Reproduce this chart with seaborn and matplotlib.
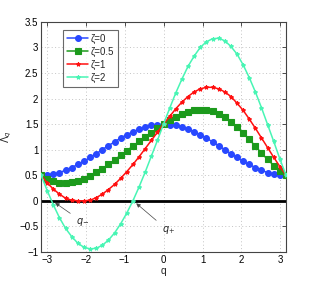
import matplotlib
matplotlib.use("Agg")
import matplotlib.pyplot as plt
import numpy as np
import seaborn as sns

# q grid: 41 samples from -pi to pi
q = np.linspace(-np.pi, np.pi, 41)

lam_z0 = [0.50, 0.51, 0.52, 0.55, 0.60, 0.65, 0.71, 0.77, 0.85, 0.92, 1.00,
          1.08, 1.15, 1.23, 1.29, 1.35, 1.40, 1.45, 1.48, 1.49, 1.50,
          1.49, 1.48, 1.45, 1.40, 1.35, 1.29, 1.23, 1.15, 1.08, 1.00,
          0.92, 0.85, 0.77, 0.71, 0.65, 0.60, 0.55, 0.52, 0.51, 0.50]
lam_z05 = [0.50, 0.43, 0.38, 0.35, 0.35, 0.36, 0.39, 0.43, 0.49, 0.56, 0.63,
           0.71, 0.80, 0.89, 0.98, 1.07, 1.16, 1.25, 1.33, 1.42, 1.50,
           1.58, 1.64, 1.70, 1.74, 1.77, 1.78, 1.78, 1.75, 1.70, 1.63,
           1.54, 1.44, 1.32, 1.20, 1.07, 0.93, 0.81, 0.69, 0.59, 0.50]
lam_z1 = [0.50, 0.35, 0.23, 0.13, 0.05, 0.01, 0.00, 0.00, 0.01, 0.06, 0.13,
          0.22, 0.32, 0.44, 0.57, 0.71, 0.86, 1.02, 1.18, 1.34, 1.50,
          1.65, 1.80, 1.93, 2.04, 2.13, 2.19, 2.22, 2.22, 2.19, 2.13,
          2.04, 1.91, 1.77, 1.60, 1.42, 1.23, 1.04, 0.85, 0.67, 0.50]
lam_z2 = [0.50, 0.20, -0.08, -0.33, -0.54, -0.70, -0.83, -0.91, -0.94, -0.93, -0.87,
          -0.77, -0.63, -0.45, -0.24, 0.00, 0.27, 0.56, 0.87, 1.18, 1.50,
          1.81, 2.11, 2.38, 2.63, 2.83, 3.00, 3.11, 3.17, 3.18, 3.13,
          3.02, 2.87, 2.66, 2.41, 2.13, 1.82, 1.49, 1.16, 0.82, 0.50]

labels = ["ζ=0", "ζ=0.5", "ζ=1", "ζ=2"]
series = [lam_z0, lam_z05, lam_z1, lam_z2]
colors = ["#2848ff", "#1c9a1c", "#ff1010", "#48f5b4"]
markers = ["o", "s", "*", "*"]
msizes = [4.2, 4.0, 3.0, 3.0]

sns.set_style("white")
plt.rcParams["font.family"] = ["Liberation Sans", "DejaVu Sans"]
plt.rcParams["font.size"] = 6.5

fig = plt.figure(figsize=(3.16, 2.84), dpi=100)
ax = fig.add_axes([0.13, 0.113, 0.775, 0.81])

ax.axhline(0, color="black", lw=2.0, zorder=1)
for vals, lab, col, mk, ms in zip(series, labels, colors, markers, msizes):
    sns.lineplot(x=q, y=vals, ax=ax, color=col, marker=mk, markersize=ms,
                 markeredgecolor=col, markeredgewidth=0.8, lw=1.1,
                 label=lab, zorder=3)

ax.set_xlim(-np.pi, np.pi)
ax.set_ylim(-1, 3.5)
ax.set_xticks([-3, -2, -1, 0, 1, 2, 3])
ax.set_yticks(np.arange(-1, 3.51, 0.5))
ax.set_yticklabels(["−1", "−0.5", "0", "0.5", "1", "1.5", "2", "2.5", "3", "3.5"])
ax.set_xticklabels(["−3", "−2", "−1", "0", "1", "2", "3"])
ax.grid(True, ls=(0, (1, 2.5)), color="#c4c4c4", lw=0.7)
ax.tick_params(direction="in", length=3, width=0.6, top=True, right=True,
               labelsize=7, pad=2, colors="#333333", labelcolor="black")
for sp in ax.spines.values():
    sp.set_color("#444444")
    sp.set_linewidth(0.8)

ax.set_xlabel("q", fontsize=7.5, labelpad=1)
ax.set_ylabel(r"$\Lambda_q$", fontsize=7, labelpad=4)

ax.annotate(r"$q_{-}$", xy=(-2.78, -0.04), xytext=(-2.25, -0.45), fontsize=7,
            arrowprops=dict(arrowstyle="-|>", color="#444444", lw=0.5,
                            mutation_scale=6, shrinkB=0))
ax.annotate(r"$q_{+}$", xy=(-0.70, -0.05), xytext=(-0.05, -0.62), fontsize=7,
            arrowprops=dict(arrowstyle="-|>", color="#444444", lw=0.5,
                            mutation_scale=6, shrinkB=0))

leg = ax.legend(loc="upper left", bbox_to_anchor=(0.09, 0.965), fontsize=7,
                frameon=True, fancybox=False, handlelength=2.2,
                handletextpad=0.2, borderpad=0.4, labelspacing=0.3,
                borderaxespad=0)
leg.get_frame().set_edgecolor("#444444")
leg.get_frame().set_linewidth(0.8)

fig.savefig("out.png", dpi=100)
